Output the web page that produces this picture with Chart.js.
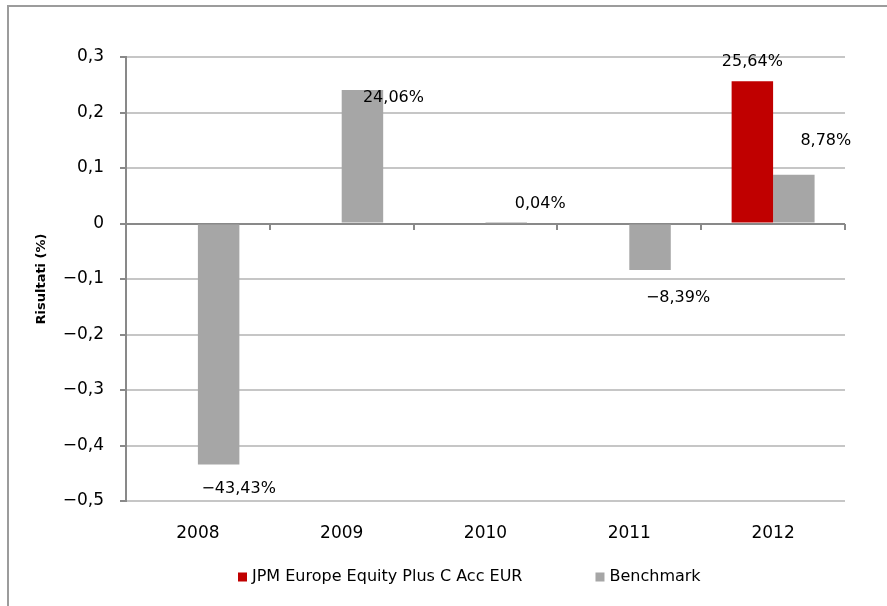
<!DOCTYPE html>
<html>
<head>
<meta charset="utf-8">
<script src="https://cdn.jsdelivr.net/npm/chart.js@4.4.1/dist/chart.umd.min.js"></script>
<style>
    html, body { margin: 0; padding: 0; background: #fff; }
    #frame {
        position: absolute; left: 7px; top: 5px; width: 900px; height: 700px;
        border-left: 2px solid #9c9c9c; border-top: 2px solid #9c9c9c;
    }
    #wrap { position: absolute; left: 0; top: 0; width: 887px; height: 606px; }
</style>
</head>
<body>
<div id="frame"></div>
<div id="wrap"><canvas id="chart" width="887" height="606"></canvas></div>
<script>
    'use strict';

    // Chart data
    const years = ['2008', '2009', '2010', '2011', '2012'];
    const fundLabel = 'JPM Europe Equity Plus C Acc EUR';
    const fundValues = [null, null, null, null, 0.2564];
    const benchLabel = 'Benchmark';
    const benchValues = [-0.4343, 0.2406, 0.0004, -0.0839, 0.0878];
    const yMin = -0.5;
    const yMax = 0.3;
    const yStep = 0.1;

    const AXIS_GREY = '#898989';
    const GRID_GREY = '#c6c6c6';
    const FONT = '"DejaVu Sans", Verdana, sans-serif';

    Chart.defaults.font.family = FONT;
    Chart.defaults.color = '#000';

    function fmtComma(v, digits) {
        const s = Math.abs(v).toFixed(digits).replace('.', ',');
        return (v < 0 ? '\u2212' : '') + s;
    }

    // Value labels, placed next to each bar end (offsets in px)
    const valueLabels = {
        id: 'valueLabels',
        afterDatasetsDraw(chart, args, opts) {
            const ctx = chart.ctx;
            ctx.save();
            ctx.font = '16px ' + FONT;
            ctx.fillStyle = '#000';
            ctx.textAlign = 'center';
            ctx.textBaseline = 'middle';
            chart.data.datasets.forEach((ds, di) => {
                const meta = chart.getDatasetMeta(di);
                meta.data.forEach((bar, i) => {
                    const v = ds.data[i];
                    if (v === null || v === undefined) return;
                    const off = opts.offsets[di][i];
                    ctx.fillText(fmtComma(v * 100, 2) + '%', bar.x + off[0], bar.y + off[1]);
                });
            });
            ctx.restore();
        }
    };

    // Category tick marks hanging off the zero line
    const zeroTicks = {
        id: 'zeroTicks',
        afterDatasetsDraw(chart) {
            const x = chart.scales.x, y = chart.scales.y;
            const half = (x.getPixelForValue(1) - x.getPixelForValue(0)) / 2;
            const y0 = Math.round(y.getPixelForValue(0));
            const ctx = chart.ctx;
            ctx.save();
            ctx.strokeStyle = AXIS_GREY;
            ctx.lineWidth = 2;
            ctx.beginPath();
            for (let i = 0; i < years.length; i++) {
                const px = Math.round(x.getPixelForValue(i) + half);
                ctx.moveTo(px, y0);
                ctx.lineTo(px, y0 + 6);
            }
            ctx.stroke();
            ctx.restore();
        }
    };

    // Legend drawn under the axis labels
    const bottomLegend = {
        id: 'bottomLegend',
        afterDraw(chart, args, opts) {
            const ctx = chart.ctx;
            ctx.save();
            ctx.font = '16px ' + FONT;
            ctx.textBaseline = 'middle';
            ctx.textAlign = 'left';
            let x = opts.left;
            chart.data.datasets.forEach(ds => {
                ctx.fillStyle = ds.backgroundColor;
                ctx.fillRect(x, opts.y - opts.box / 2, opts.box, opts.box);
                ctx.fillStyle = '#000';
                const tx = x + opts.box + 5;
                ctx.fillText(ds.label, tx, opts.y);
                x = tx + ctx.measureText(ds.label).width + opts.gap;
            });
            ctx.restore();
        }
    };

    new Chart(document.getElementById('chart'), {
        type: 'bar',
        data: {
            labels: years,
            datasets: [
                {
                    label: fundLabel,
                    data: fundValues,
                    backgroundColor: '#c00000',
                    categoryPercentage: 0.577,
                    barPercentage: 1
                },
                {
                    label: benchLabel,
                    data: benchValues,
                    backgroundColor: '#a6a6a6',
                    categoryPercentage: 0.577,
                    barPercentage: 1
                }
            ]
        },
        options: {
            responsive: false,
            animation: false,
            devicePixelRatio: 1,
            layout: { padding: { left: 0, right: 42, top: 57, bottom: 65 } },
            plugins: {
                legend: { display: false },
                tooltip: { enabled: false },
                valueLabels: {
                    offsets: [
                        [[0, 0], [0, 0], [0, 0], [0, 0], [0, -19]],
                        [[20, 24], [31, 8], [34, -19], [28, 28], [32, -34]]
                    ]
                },
                bottomLegend: { left: 238, y: 577, box: 9, gap: 73 }
            },
            scales: {
                x: {
                    grid: { display: false, drawTicks: false },
                    border: { display: false },
                    ticks: { padding: 22, font: { size: 17 }, color: '#000', maxRotation: 0, autoSkip: false },
                    afterFit(scale) {
                        scale.height = 40;
                        scale.paddingLeft = 0;
                        scale.paddingRight = 0;
                    }
                },
                y: {
                    min: yMin,
                    max: yMax,
                    ticks: {
                        stepSize: yStep,
                        padding: 16,
                        font: { size: 17 },
                        color: '#000',
                        callback: v => {
                            const r = Math.round(v * 10) / 10;
                            return r === 0 ? '0' : fmtComma(r, 1);
                        }
                    },
                    grid: {
                        color: c => (c.tick && Math.round(c.tick.value * 10) === 0) ? AXIS_GREY : GRID_GREY,
                        lineWidth: 2,
                        tickLength: 6,
                        tickColor: AXIS_GREY,
                        tickWidth: 2
                    },
                    border: { color: AXIS_GREY, width: 2 },
                    title: {
                        display: true,
                        text: 'Risultati (%)',
                        font: { size: 13, weight: 'bold' },
                        color: '#000',
                        padding: { top: 34, bottom: 0 }
                    },
                    afterFit(scale) {
                        scale.width = 126;
                        scale.paddingTop = 0;
                        scale.paddingBottom = 0;
                    }
                }
            }
        },
        plugins: [valueLabels, zeroTicks, bottomLegend]
    });
</script>
</body>
</html>
